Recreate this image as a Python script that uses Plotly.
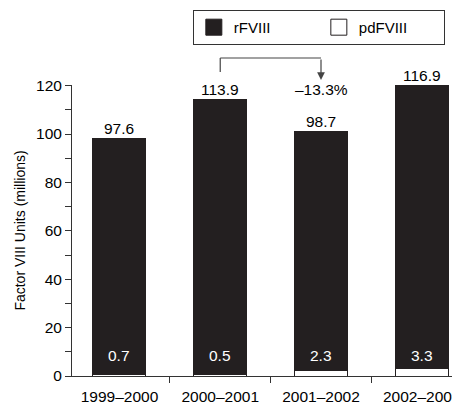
import plotly.graph_objects as go

categories = ["1999–2000", "2000–2001", "2001–2002", "2002–2003"]
rfviii = [97.6, 113.9, 98.7, 116.9]
pdfviii = [0.7, 0.5, 2.3, 3.3]
change_label = "–13.3%"

DARK = "#231f20"
FONT = "Liberation Sans, Arial, sans-serif"
FS = 15.5

fig = go.Figure()
fig.add_trace(go.Bar(
    x=categories, y=pdfviii, name="pdFVIII", showlegend=False,
    marker=dict(color="white", line=dict(color=DARK, width=1)),
    width=0.526, hoverinfo="skip",
))
fig.add_trace(go.Bar(
    x=categories, y=rfviii, name="rFVIII", showlegend=False,
    marker=dict(color=DARK, line=dict(color=DARK, width=1)),
    width=0.526, hoverinfo="skip",
))
# legend entries with larger square symbols
fig.add_trace(go.Scatter(x=[None], y=[None], mode="markers", name="rFVIII",
                         marker=dict(symbol="square", size=16, color=DARK,
                                     line=dict(color=DARK, width=1))))
fig.add_trace(go.Scatter(x=[None], y=[None], mode="markers", name="pdFVIII",
                         marker=dict(symbol="square", size=16, color="white",
                                     line=dict(color=DARK, width=1))))

annotations = []
for c, r, p in zip(categories, rfviii, pdfviii):
    annotations.append(dict(x=c, y=r + p, xref="x", yref="y", text=f"{r:.1f}",
                            showarrow=False, yanchor="middle", yshift=10,
                            font=dict(size=FS, color="black", family=FONT)))
    annotations.append(dict(x=c, y=0, xref="x", yref="y", text=f"{p:.1f}",
                            showarrow=False, yanchor="middle", yshift=21,
                            font=dict(size=FS, color="white", family=FONT)))

# bracket arrow
annotations.append(dict(x=categories[2], y=1.0172, xref="x", yref="paper", text="",
                        showarrow=True, ax=0, ay=-22, arrowhead=2, arrowsize=1.3,
                        arrowwidth=1.2, arrowcolor="#444"))
annotations.append(dict(x=categories[2], y=0.983, xref="x", yref="paper", text=change_label,
                        showarrow=False, yanchor="middle",
                        font=dict(size=FS, color="black", family=FONT)))

shapes = [
    dict(type="line", xref="x", yref="paper", x0=categories[1], x1=categories[1],
         y0=1.0447, y1=1.0928, line=dict(color="#444", width=1.2)),
    dict(type="line", xref="x", yref="paper", x0=categories[1], x1=categories[2],
         y0=1.0928, y1=1.0928, line=dict(color="#444", width=1.2)),
]

fig.update_layout(
    width=452, height=405, autosize=False,
    margin=dict(l=72, r=0, t=85, b=29, autoexpand=False),
    barmode="stack",
    plot_bgcolor="white", paper_bgcolor="white",
    font=dict(family=FONT, size=FS, color="black"),
    showlegend=True,
    legend=dict(orientation="h", x=0.318, xanchor="left", y=1.258, yanchor="top",
                bordercolor="#333", borderwidth=1, entrywidth=80,
                font=dict(size=15, family=FONT), traceorder="normal"),
    annotations=annotations,
    shapes=shapes,
)
fig.update_xaxes(
    type="category", range=[-0.471, 3.30], automargin=False,
    showline=True, linecolor="#333", linewidth=1,
    ticks="outside", tickson="boundaries", ticklen=6, tickcolor="#333",
    ticklabelstandoff=6, tickangle=0,
    tickfont=dict(size=FS, family=FONT), showgrid=False,
)
fig.update_yaxes(
    range=[0, 120.25], tickvals=[0, 20, 40, 60, 80, 100, 120], automargin=False,
    showline=True, linecolor="#333", linewidth=1,
    ticks="outside", ticklen=6, tickcolor="#333",
    minor=dict(tickvals=[10, 30, 50, 70, 90, 110], ticks="outside", ticklen=6,
               tickcolor="#333", showgrid=False),
    tickfont=dict(size=FS, family=FONT), showgrid=False, zeroline=False,
    title=dict(text="Factor VIII Units (millions)", font=dict(size=14, family=FONT), standoff=7),
)

fig.write_html("out.html", config={"displayModeBar": False},
               post_script="document.body.style.margin='0';")
